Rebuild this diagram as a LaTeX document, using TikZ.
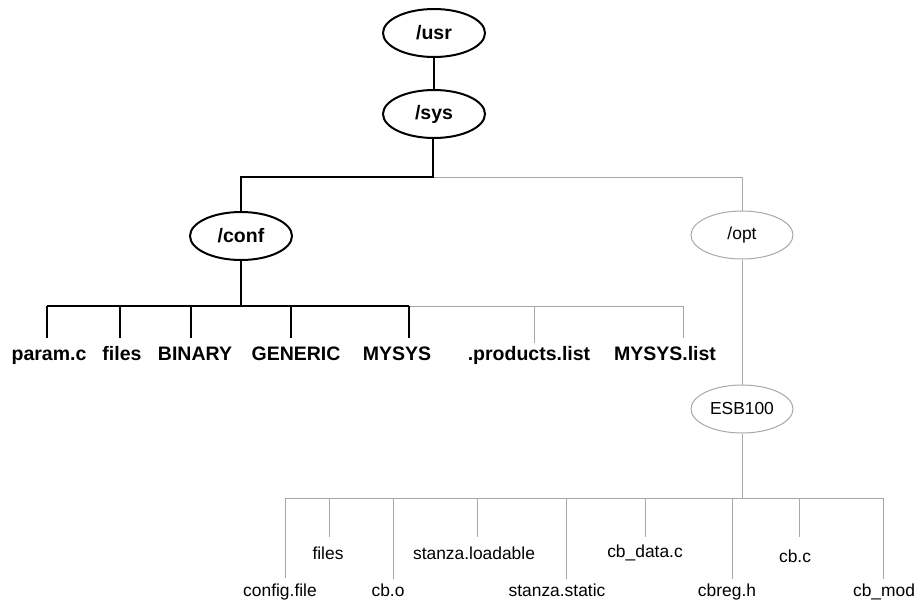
\documentclass[tikz,border=0pt]{standalone}
\usepackage{fontspec}
\setmainfont{Liberation Sans}
\usetikzlibrary{shapes.geometric}
\definecolor{treegray}{RGB}{168,168,168}
\tikzset{
	dirbold/.style={ellipse, draw=black, line width=2pt, minimum width=102pt, minimum height=48pt, inner sep=0pt, font=\fontsize{19.5}{22}\selectfont\bfseries},
	dirplain/.style={ellipse, draw=treegray, line width=1pt, minimum width=102pt, minimum height=48pt, inner sep=0pt, font=\fontsize{17.4}{20}\selectfont},
	leafbold/.style={anchor=base, inner sep=0pt, font=\fontsize{19.5}{22}\selectfont\bfseries},
	leafplain/.style={anchor=base, inner sep=0pt, font=\fontsize{17.4}{20}\selectfont},
	blackedge/.style={line width=2.5pt, draw=black},
	grayedge/.style={line width=1pt, draw=treegray}
}

\begin{document}
\begin{tikzpicture}[x=1pt, y=-1pt]
			%%%%% START %%%%%
			\useasboundingbox (0, 0) rectangle (916, 600);
			
			\node[dirbold] (usr) at (434, 33) {/usr};
			\node[dirbold] (sys) at (434, 114) {/sys};
			\node[dirbold] (conf) at (241, 236) {/conf};
			\node[dirplain] (opt) at (742, 235) {/opt};
			\node[dirplain] (esb) at (742, 409) {ESB100};
			
			\coordinate (sysknee) at (433, 177);
			\coordinate (confknee) at (241, 306);
			\coordinate (esbknee) at (742, 498);
			
			\draw[blackedge] (usr) -- (sys);
			\draw[grayedge] (sysknee) -| (opt);
			\draw[blackedge] (sys.south -| sysknee) -- (sysknee) -| (conf);
			\draw[grayedge] (opt) -- (esb);
			\draw[blackedge] (conf) -- (confknee);
			\draw[grayedge] (esb) -- (esbknee);
			
			% /conf row
			\coordinate (barA) at (47, 306);
			\coordinate (barB) at (409, 306);
			\coordinate (barC) at (683, 306);
			\draw[grayedge] (barB) -- (barC);
			\draw[blackedge] (barA) -- (barB);
			
			\node[leafbold] (paramc) at (49, 360) {param.c};
			\node[leafbold] (files) at (122, 360) {files};
			\node[leafbold] (binary) at (195, 360) {BINARY};
			\node[leafbold] (generic) at (296, 360) {GENERIC};
			\node[leafbold] (mysys) at (397, 360) {MYSYS};
			\node[leafbold] (products) at (529, 360) {.products.list};
			\node[leafbold] (mysyslist) at (665, 360) {MYSYS.list};
			
			\coordinate (paramc-end) at (47, 338);
			\coordinate (files-end) at (120, 338);
			\coordinate (binary-end) at (191, 338);
			\coordinate (generic-end) at (291, 338);
			\coordinate (mysys-end) at (409, 338);
			\coordinate (products-end) at (534, 343);
			\coordinate (mysyslist-end) at (683, 338);
			
			\draw[blackedge] (barA) -- (paramc-end);
			\draw[blackedge] (files-end |- barA) -- (files-end);
			\draw[blackedge] (binary-end |- barA) -- (binary-end);
			\draw[blackedge] (generic-end |- barA) -- (generic-end);
			\draw[blackedge] (barB) -- (mysys-end);
			\draw[grayedge] (products-end |- barA) -- (products-end);
			\draw[grayedge] (barC) -- (mysyslist-end);
			
			% ESB100 row
			\coordinate (barD) at (285, 498);
			\coordinate (barE) at (883, 498);
			\draw[grayedge] (barD) -- (barE);
			
			\node[leafplain] (configfile) at (280, 596) {config.file};
			\node[leafplain] (esbfiles) at (328, 559) {files};
			\node[leafplain] (cbo) at (388, 596) {cb.o};
			\node[leafplain] (loadable) at (474, 559) {stanza.loadable};
			\node[leafplain] (static) at (557, 596) {stanza.static};
			\node[leafplain] (cbdata) at (645, 557) {cb\_data.c};
			\node[leafplain] (cbreg) at (727, 596) {cbreg.h};
			\node[leafplain] (cbc) at (795, 562) {cb.c};
			\node[leafplain] (cbmod) at (884, 596) {cb\_mod};
			
			\coordinate (configfile-end) at (285, 578);
			\coordinate (esbfiles-end) at (329, 537);
			\coordinate (cbo-end) at (393, 579);
			\coordinate (loadable-end) at (477, 537);
			\coordinate (static-end) at (566, 579);
			\coordinate (cbdata-end) at (645, 537);
			\coordinate (cbreg-end) at (732, 579);
			\coordinate (cbc-end) at (799, 537);
			\coordinate (cbmod-end) at (883, 579);
			
			\draw[grayedge] (barD) -- (configfile-end);
			\draw[grayedge] (esbfiles-end |- barD) -- (esbfiles-end);
			\draw[grayedge] (cbo-end |- barD) -- (cbo-end);
			\draw[grayedge] (loadable-end |- barD) -- (loadable-end);
			\draw[grayedge] (static-end |- barD) -- (static-end);
			\draw[grayedge] (cbdata-end |- barD) -- (cbdata-end);
			\draw[grayedge] (cbreg-end |- barD) -- (cbreg-end);
			\draw[grayedge] (cbc-end |- barD) -- (cbc-end);
			\draw[grayedge] (barE) -- (cbmod-end);
			
			%%%%% END %%%%%
\end{tikzpicture}
\end{document}
